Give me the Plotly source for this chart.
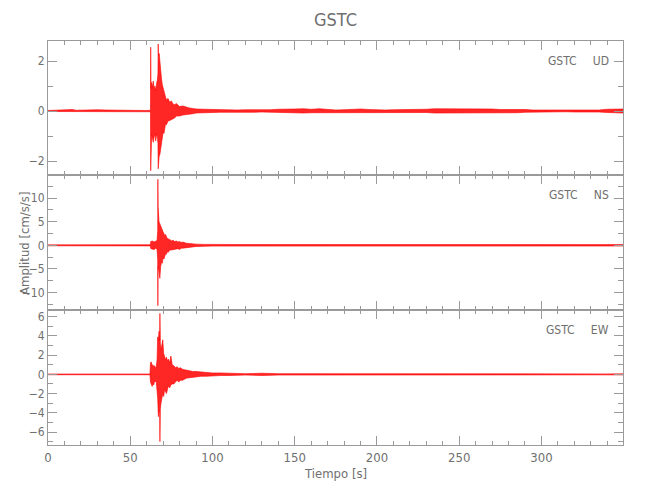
import plotly.graph_objects as go

# ---------------- data (envelopes) ----------------
ud_t = [0, 5, 10, 15, 17, 20, 25, 30, 35, 40, 45, 50, 55, 60, 62.3, 62.45, 62.6, 63.0, 63.5, 64.0, 64.5,
        65.0, 65.5, 66.0, 66.5, 66.85, 67.0, 67.2, 67.6, 68.0, 68.5, 69.0, 69.5, 70.0, 70.5, 71.0, 71.5,
        72.0, 73.0, 74.0, 75.0, 76.0, 77.0, 78.0, 80.0, 82.0, 84.0, 86.0, 88.0, 90.0, 95, 100, 105, 110,
        115, 120, 125, 130, 135, 140, 145, 150, 155, 160, 165, 170, 175, 180, 185, 190, 195, 200, 205,
        210, 215, 220, 225, 230, 235, 240, 245, 250, 255, 260, 265, 270, 275, 280, 285, 290, 295, 300,
        305, 310, 315, 320, 325, 330, 335, 340, 345, 349.6]
ud_up = [.02, .03, .04, .06, .03, .04, .04, .05, .04, .03, .03, .03, .02, .02, .03, 2.55, 0.9, 1.15, 0.95,
         1.2, 0.85, 1.0, 0.8, 1.1, 1.25, 1.5, 2.68, 2.2, 2.3, 1.9, 1.6, 1.3, 1.05, 0.9, 0.75, 0.6, 0.55,
         0.45, 0.5, 0.35, 0.4, 0.28, 0.25, 0.3, 0.18, 0.2, 0.15, 0.12, 0.1, 0.08, .07, .06, .05, .06,
         .04, .05, .04, .06, .05, .07, .09, .08, .09, .07, .09, .06, .04, .05, .07, .08, .06, .04, .04,
         .05, .05, .07, .08, .07, .09, .09, .1, .1, .08, .07, .07, .08, .06, .07, .08, .06, .04, .04,
         .03, .04, .03, .04, .03, .04, .04, .07, .08, .08]
ud_lo = [-.02, -.02, -.03, -.05, -.03, -.03, -.04, -.04, -.03, -.03, -.02, -.03, -.02, -.02, -.03, -2.39,
         -1.0, -0.95, -1.1, -1.25, -1.05, -0.9, -1.2, -0.95, -1.0, -1.3, -2.31, -2.1, -1.8, -1.75, -1.5,
         -1.3, -1.15, -0.85, -0.9, -0.65, -0.5, -0.55, -0.4, -0.38, -0.35, -0.3, -0.28, -0.2, -0.2,
         -0.16, -0.15, -0.11, -0.11, -0.08, -.06, -.06, -.05, -.05, -.04, -.04, -.05, -.04, -.05, -.07,
         -.08, -.09, -.08, -.07, -.07, -.06, -.04, -.04, -.06, -.06, -.05, -.04, -.04, -.05, -.04, -.05,
         -.07, -.06, -.08, -.08, -.09, -.09, -.08, -.07, -.08, -.07, -.06, -.06, -.07, -.05, -.04, -.04,
         -.03, -.03, -.03, -.04, -.03, -.04, -.04, -.06, -.07, -.08]

ns_t = [0, 20, 40, 60, 62.2, 62.5, 63.5, 64.5, 65.5, 66.3, 66.7, 66.8, 66.95, 67.5, 68.0, 68.5, 69.0,
        69.5, 70.0, 70.5, 71.0, 71.5, 72.0, 72.5, 73.0, 73.5, 74.0, 75.0, 76.0, 77.0, 78.0, 79.0, 80.0,
        81.0, 82.0, 84.0, 86.0, 88.0, 90.0, 95, 100, 120, 140, 160, 180, 200, 220, 240, 260, 280, 300,
        320, 340, 349.6]
ns_up = [.1, .11, .1, .11, .12, .8, .9, .7, .8, 1.0, 3.0, 14.0, 8.2, 5.0, 4.5, 4.2, 3.8, 3.2, 2.8,
         2.5, 2.0, 2.3, 1.6, 1.4, 1.5, 1.1, 1.3, 0.9, 1.1, 0.8, 0.9, 0.7, 0.8, 0.6, 0.7, 0.45, 0.4, 0.3,
         0.25, .2, .18, .16, .15, .16, .15, .14, .16, .18, .16, .15, .14, .15, .16, .15]
ns_lo = [-.1, -.11, -.1, -.11, -.12, -.7, -.8, -.9, -.6, -.9, -3.0, -12.8, -4.5, -5.5, -7.0, -4.5,
         -3.6, -3.8, -2.6, -2.9, -2.2, -1.8, -1.9, -1.3, -1.5, -1.2, -1.0, -1.0, -0.9, -0.9, -0.8, -0.7,
         -0.9, -0.6, -0.6, -0.5, -0.35, -0.3, -0.25, -.2, -.16, -.16, -.15, -.16, -.15, -.14, -.16,
         -.18, -.16, -.15, -.14, -.15, -.16, -.15]

ew_t = [0, 20, 40, 60, 62.0, 62.3, 62.8, 63.3, 63.8, 64.3, 64.8, 65.3, 65.8, 66.3, 66.7, 67.1, 67.5,
        67.9, 68.05, 68.3, 68.7, 69.2, 69.8, 70.3, 70.9, 71.5, 72.0, 72.6, 73.2, 74.0, 74.7, 75.5, 76.5,
        77.5, 78.5, 79.5, 80.5, 82, 84, 86, 88, 90, 93, 96, 100, 105, 110, 120, 130, 140, 160, 180,
        200, 220, 240, 260, 280, 300, 320, 340, 349.6]
ew_up = [.04, .04, .04, .04, .04, 1.2, 1.3, 0.9, 1.0, 0.8, 0.9, 0.7, 0.8, 1.5, 3.9, 3.5, 4.5, 3.6,
         6.35, 3.2, 2.6, 3.0, 3.6, 2.2, 1.7, 1.5, 1.8, 1.4, 1.6, 1.2, 1.9, 1.0, 0.9, 0.7, 0.8, 0.6, 0.7,
         0.5, 0.45, 0.35, 0.3, 0.3, 0.25, 0.2, 0.15, 0.15, 0.12, 0.07, 0.12, 0.07, 0.07, 0.06, 0.06,
         0.06, 0.07, 0.06, 0.06, 0.05, 0.05, 0.05, 0.06]
ew_lo = [-.04, -.04, -.04, -.04, -.04, -0.8, -1.0, -1.25, -1.0, -1.1, -0.7, -0.8, -0.7, -1.6, -2.5,
         -4.4, -3.8, -4.0, -7.0, -3.6, -3.0, -2.4, -2.0, -2.3, -1.6, -1.8, -2.0, -1.6, -1.2, -1.4, -1.1,
         -1.0, -1.0, -0.8, -0.6, -0.8, -0.6, -0.6, -0.4, -0.35, -0.3, -0.25, -0.2, -0.2, -0.15, -0.12,
         -0.12, -0.07, -0.12, -0.07, -0.07, -0.06, -0.06, -0.06, -0.07, -0.06, -0.06, -0.05, -0.05,
         -0.05, -0.06]

channels = ["UD", "NS", "EW"]
station = "GSTC"
y_ranges = [[-2.56, 2.8], [-13.7, 14.9], [-7.35, 6.7]]
y_dticks = [2, 5, 2]
y_minor = [1, 2.5, 1]
x_range = [0, 349.6]

# ---------------- figure ----------------
FONT = "DejaVu Sans Condensed, Liberation Sans Narrow, Arial Narrow, sans-serif"
TXT = "#6f6f6f"
AX = "#9a9a9a"
RED = "red"
FILL = "rgba(255,0,0,0.85)"

fig = go.Figure()
series = [(ud_t, ud_up, ud_lo), (ns_t, ns_up, ns_lo), (ew_t, ew_up, ew_lo)]
for i, (t, up, lo) in enumerate(series):
    xa = "x" if i == 0 else f"x{i+1}"
    ya = "y" if i == 0 else f"y{i+1}"
    fig.add_trace(go.Scatter(x=t, y=lo, mode="lines", line=dict(color=RED, width=0.6),
                             xaxis=xa, yaxis=ya, showlegend=False, hoverinfo="skip"))
    fig.add_trace(go.Scatter(x=t, y=up, mode="lines", line=dict(color=RED, width=0.6),
                             fill="tonexty", fillcolor=FILL,
                             xaxis=xa, yaxis=ya, showlegend=False, hoverinfo="skip"))

H = 404.0
domains = [[270 / H, 1.0], [135 / H, 270 / H], [0.0, 135 / H]]

# the page body adds an 8 px offset; size the figure so the plot area lands at x 48-623, y 41-445
layout = dict(
    width=642, height=492,
    margin=dict(l=40, r=27, t=33, b=55, autoexpand=False),
    paper_bgcolor="white", plot_bgcolor="white",
    font=dict(family=FONT, color=TXT, size=12),
    showlegend=False,
)
for i in range(3):
    xk = "xaxis" if i == 0 else f"xaxis{i+1}"
    yk = "yaxis" if i == 0 else f"yaxis{i+1}"
    layout[xk] = dict(
        range=x_range, domain=[0, 1], anchor="y" if i == 0 else f"y{i+1}",
        matches=None if i == 0 else "x", automargin=False,
        showgrid=False, zeroline=False, showline=True, linecolor=AX, linewidth=1,
        mirror="ticks", ticks="inside", ticklen=9, tickcolor=AX, tickwidth=1,
        dtick=50, tick0=0, showticklabels=(i == 2),
        tickfont=dict(family=FONT, color=TXT, size=13),
        minor=dict(dtick=10, tick0=0, ticks="inside", ticklen=4, tickcolor=AX, showgrid=False),
    )
    layout[yk] = dict(
        range=y_ranges[i], domain=domains[i], anchor="x" if i == 0 else f"x{i+1}",
        automargin=False,
        showgrid=False, zeroline=False, showline=True, linecolor=AX, linewidth=1,
        mirror="ticks", ticks="inside", ticklen=9, tickcolor=AX, tickwidth=1,
        dtick=y_dticks[i], tick0=0,
        tickfont=dict(family=FONT, color=TXT, size=12),
        minor=dict(dtick=y_minor[i], tick0=0, ticks="inside", ticklen=5, tickcolor=AX, showgrid=False),
    )
fig.update_layout(**layout)

annotations = [
    dict(text=station, xref="paper", yref="paper", x=0.5, y=1 + 21 / H, xanchor="center",
         yanchor="middle", showarrow=False, font=dict(family=FONT, color=TXT, size=18)),
    dict(text="Amplitud [cm/s/s]", xref="paper", yref="paper", x=-24 / 575, y=0.4975, textangle=-90,
         xanchor="center", yanchor="middle", showarrow=False, font=dict(family=FONT, color=TXT, size=13)),
    dict(text="Tiempo [s]", xref="paper", yref="paper", x=0.5, y=-28 / H, xanchor="center",
         yanchor="middle", showarrow=False, font=dict(family=FONT, color=TXT, size=13)),
]
for i, ch in enumerate(channels):
    yr = "y domain" if i == 0 else f"y{i+1} domain"
    annotations.append(dict(text=f"{station}\u2003\u2002{ch}", xref="paper", yref=yr,
                            x=(611 - 48) / 575, y=1 - 20 / 135, xanchor="right", yanchor="middle",
                            showarrow=False, font=dict(family=FONT, color=TXT, size=12)))
fig.update_layout(annotations=annotations)

fig.write_html("out.html")
